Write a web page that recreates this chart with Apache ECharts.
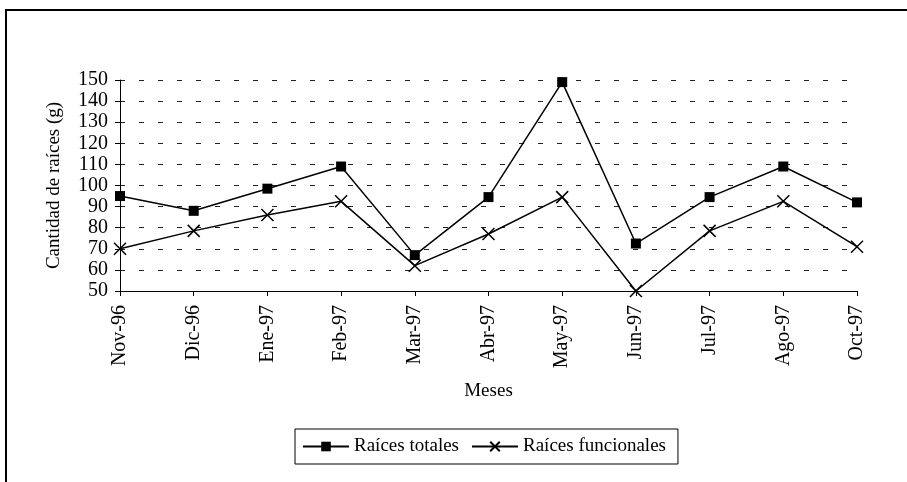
<!DOCTYPE html>
<html>
<head>
<meta charset="utf-8">
<script src="https://cdn.jsdelivr.net/npm/echarts@6/dist/echarts.min.js"></script>
<style>
  html, body { margin: 0; padding: 0; background: #fff; }
  #chart { width: 907px; height: 482px; }
</style>
</head>
<body>
<div id="chart"></div>
<script>
// meses del muestreo
var meses = ['Nov-96', 'Dic-96', 'Ene-97', 'Feb-97', 'Mar-97', 'Abr-97', 'May-97', 'Jun-97', 'Jul-97', 'Ago-97', 'Oct-97']
var raicesTotales = [95, 88, 98.5, 109, 67, 94.5, 149, 72.5, 94.5, 109, 92]
var raicesFuncionales = [70, 78.5, 86, 92.5, 62, 77, 94.5, 50, 78.5, 92.5, 71]

var fuente = 'Liberation Serif'
var cruz = 'path://M0,0L10,10M10,0L0,10'

var myChart = echarts.init(document.getElementById('chart'))
myChart.setOption({
  animation: false,
  textStyle: { fontFamily: fuente, color: '#000' },
  graphic: [{ // marco exterior
    type: 'rect',
    shape: { x: 6, y: 10, width: 1000, height: 1000 },
    style: { fill: 'none', stroke: '#000', lineWidth: 2 }
  }],
  grid: { left: 120, right: 50, top: 80, bottom: 191 },
  legend: {
    left: 295,
    top: 429,
    padding: [8, 12, 8, 7],
    borderColor: '#000',
    borderWidth: 1,
    itemWidth: 46,
    itemHeight: 12,
    itemGap: 12,
    textStyle: { fontFamily: fuente, fontSize: 19, color: '#000' },
    data: ['Raíces totales', 'Raíces funcionales']
  },
  xAxis: {
    type: 'category',
    data: meses,
    boundaryGap: false,
    name: 'Meses',
    nameLocation: 'middle',
    nameGap: 91,
    nameTextStyle: { fontFamily: fuente, fontSize: 19, color: '#000' },
    axisLine: { lineStyle: { color: '#000', width: 1 } },
    axisTick: { length: 5, lineStyle: { color: '#000' } },
    axisLabel: { rotate: 90, margin: 14, fontSize: 20, color: '#000', fontFamily: fuente, interval: 0 },
    splitLine: { show: false }
  },
  yAxis: {
    type: 'value',
    min: 50,
    max: 150,
    interval: 10,
    name: 'Cantidad de raíces (g)',
    nameLocation: 'middle',
    nameGap: 56,
    nameTextStyle: { fontFamily: fuente, fontSize: 19, color: '#000' },
    axisLine: { show: true, lineStyle: { color: '#000', width: 1 } },
    axisTick: { show: true, length: 5, lineStyle: { color: '#000' } },
    axisLabel: { margin: 12, fontSize: 20, color: '#000', fontFamily: fuente },
    splitLine: { lineStyle: { color: '#222', width: 1, type: [5, 14] } }
  },
  series: [
    {
      name: 'Raíces totales',
      type: 'line',
      data: raicesTotales,
      symbol: 'rect',
      symbolSize: 10,
      lineStyle: { color: '#000', width: 1.5 },
      itemStyle: { color: '#000' }
    },
    {
      name: 'Raíces funcionales',
      type: 'line',
      data: raicesFuncionales,
      symbol: cruz,
      symbolSize: 12,
      lineStyle: { color: '#000', width: 1.5 },
      itemStyle: { color: 'none', borderColor: '#000', borderWidth: 1.5 }
    }
  ]
})
</script>
</body>
</html>
